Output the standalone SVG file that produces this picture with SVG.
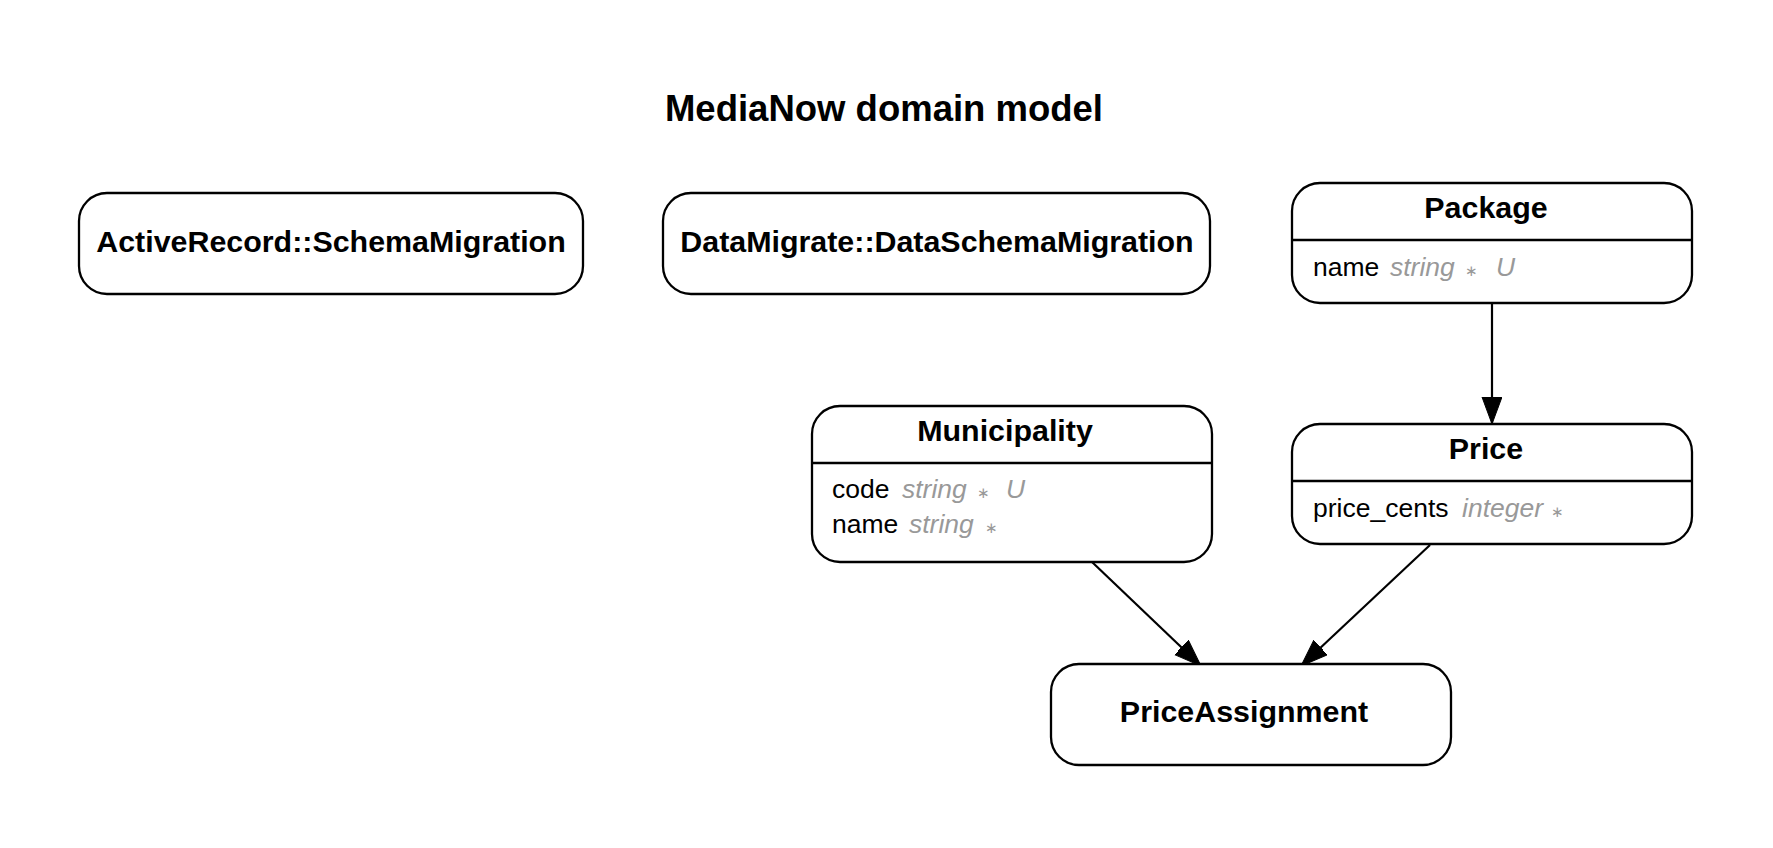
<svg xmlns="http://www.w3.org/2000/svg" width="1773" height="848" viewBox="0 0 1773 848">
<style>
.box{fill:#fff;stroke:#000;stroke-width:2.3}
.div{stroke:#000;stroke-width:2.3}
.t{font-family:"Liberation Sans",Arial,sans-serif;font-weight:bold;font-size:30.4px;fill:#000;text-anchor:middle}
.a{font-family:"Liberation Sans",Arial,sans-serif;font-size:26.5px;fill:#000}
.ty{font-style:italic;fill:#999}
.st{font-size:15px;fill:#999}
.e{stroke:#000;stroke-width:2.2;fill:none}
</style>
<defs>
<marker id="arr" markerUnits="userSpaceOnUse" markerWidth="30" markerHeight="24" refX="27" refY="10" orient="auto">
<path d="M0,0 L27,10 L0,20 Z" fill="#000" stroke="#000" stroke-width="1"/>
</marker>
</defs>
<rect width="1773" height="848" fill="#fff"/>
<text x="884" y="121" font-family="Liberation Sans,Arial,sans-serif" font-weight="bold" font-size="36.5" text-anchor="middle">MediaNow domain model</text>
<g id="connectors">
<line class="e" x1="1492" y1="303" x2="1492" y2="424" marker-end="url(#arr)"/>
<line class="e" x1="1092" y1="562" x2="1201" y2="666" marker-end="url(#arr)"/>
<line class="e" x1="1430" y1="545" x2="1301" y2="666" marker-end="url(#arr)"/>
</g>
<g id="ActiveRecordSchemaMigration">
<rect class="box" x="79" y="193" width="504" height="101" rx="28"/>
<text class="t" x="331" y="252">ActiveRecord::SchemaMigration</text>
</g>
<g id="DataMigrateDataSchemaMigration">
<rect class="box" x="663" y="193" width="547" height="101" rx="28"/>
<text class="t" x="937" y="252">DataMigrate::DataSchemaMigration</text>
</g>
<g id="Package">
<rect class="box" x="1292" y="183" width="400" height="120" rx="28"/>
<line class="div" x1="1292" y1="240" x2="1692" y2="240"/>
<text class="t" x="1486" y="218">Package</text>
<text class="a" x="1313" y="276">name<tspan class="ty" x="1390">string</tspan><tspan class="st" x="1471" text-anchor="middle">∗</tspan><tspan class="ty" x="1496">U</tspan></text>
</g>
<g id="Price">
<rect class="box" x="1292" y="424" width="400" height="120" rx="28"/>
<line class="div" x1="1292" y1="481" x2="1692" y2="481"/>
<text class="t" x="1486" y="459">Price</text>
<text class="a" x="1313" y="517">price_cents<tspan class="ty" x="1462">integer</tspan><tspan class="st" x="1557" text-anchor="middle">∗</tspan></text>
</g>
<g id="Municipality">
<rect class="box" x="812" y="406" width="400" height="156" rx="28"/>
<line class="div" x1="812" y1="463" x2="1212" y2="463"/>
<text class="t" x="1005" y="441">Municipality</text>
<text class="a" x="832" y="498">code<tspan class="ty" x="902">string</tspan><tspan class="st" x="983" text-anchor="middle">∗</tspan><tspan class="ty" x="1006">U</tspan></text>
<text class="a" x="832" y="533">name<tspan class="ty" x="909">string</tspan><tspan class="st" x="991" text-anchor="middle">∗</tspan></text>
</g>
<g id="PriceAssignment">
<rect class="box" x="1051" y="664" width="400" height="101" rx="28"/>
<text class="t" x="1244" y="722">PriceAssignment</text>
</g>
</svg>
